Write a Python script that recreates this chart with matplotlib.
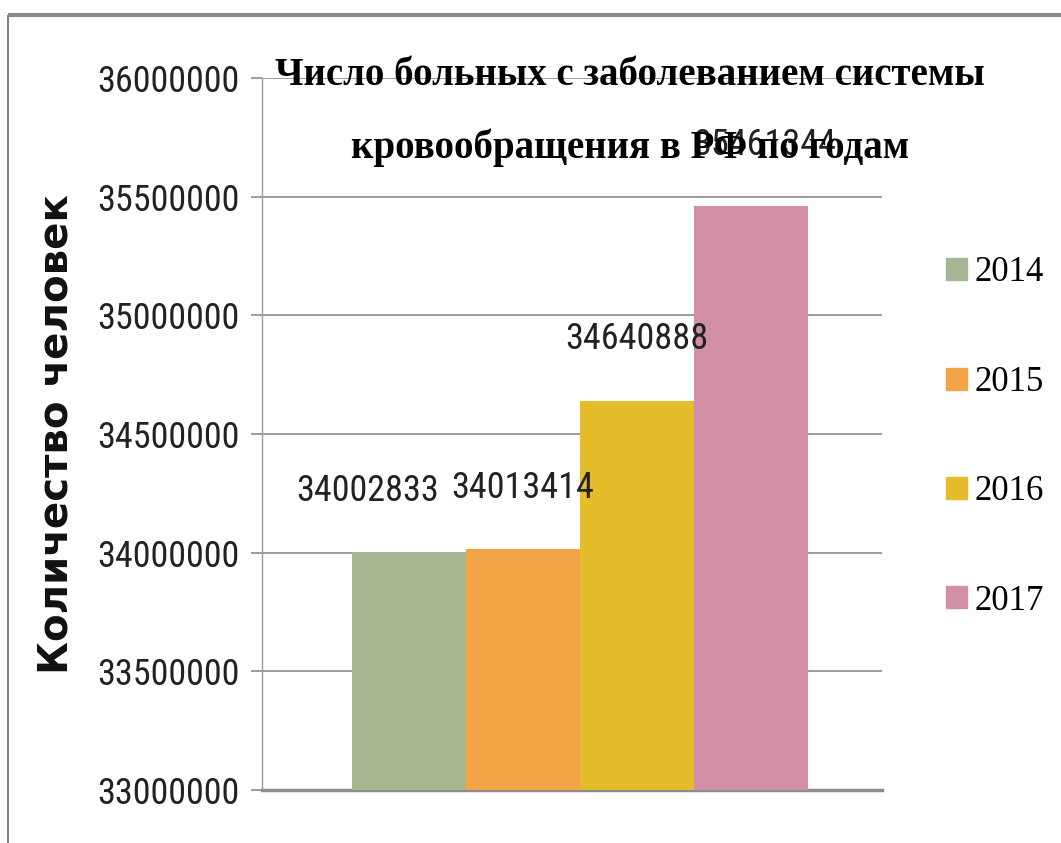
import matplotlib
matplotlib.use("Agg")
import matplotlib.pyplot as plt
from matplotlib import font_manager
from matplotlib.patches import Rectangle

years = ["2014", "2015", "2016", "2017"]
values = [34002833, 34013414, 34640888, 35461344]
colors = ["#A6B592", "#F3A447", "#E5BC2C", "#D190A6"]
yticks = [33000000, 33500000, 34000000, 34500000, 35000000, 35500000, 36000000]
title = "Число больных с заболеванием системы\nкровообращения в РФ по годам"
ylabel = "Количество человек"

fl = font_manager.fontManager.ttflist
names = {f.name for f in fl}
cond = None
for cand in ["Liberation Sans Narrow", "Roboto Condensed", "Open Sans Condensed", "Noto Sans Condensed"]:
    if cand in names:
        cond = cand
        break
has_djv_cond = any(f.name == "DejaVu Sans" and "ondensed" in f.fname for f in fl)
if cond:
    num_font = dict(family=[cond, "DejaVu Sans"])
elif has_djv_cond:
    num_font = dict(family=["DejaVu Sans"], stretch="condensed")
else:
    num_font = dict(family=["DejaVu Sans"])
serif = "Liberation Serif"

fig = plt.figure(figsize=(10.61, 8.43), dpi=100)
# outer frame
fig.patches.append(Rectangle((8/1061, -0.1), 1.2, (843-16)/843 + 0.1, transform=fig.transFigure,
                             fill=False, edgecolor="#808080", linewidth=1.5))
fig.patches.append(Rectangle((8/1061, (843-17)/843), 1.2, 4/843, transform=fig.transFigure,
                             facecolor="#8a8a8a", edgecolor="none"))

ax = fig.add_axes([262/1061, 1-790/843, 620/1061, (790-78)/843])
x = [0, 1, 2, 3]
ax.bar(x, [v - 33000000 for v in values], bottom=33000000, width=1.0, color=colors, zorder=3)
ax.set_xlim(-1.29, 4.15)
ax.set_ylim(33000000, 36000000)
ax.set_yticks(yticks)
ax.set_yticklabels([str(t) for t in yticks], fontsize=26, color="#222222", **num_font)
ax.set_xticks([])
ax.yaxis.grid(True, color="#8c8c8c", linewidth=1.2, zorder=0)
ax.tick_params(axis="y", length=8, color="#8c8c8c", width=1.2, pad=8)
for s in ["top", "right"]:
    ax.spines[s].set_visible(False)
ax.spines["left"].set_color("#9a9a9a")
ax.spines["left"].set_linewidth(1.0)
ax.spines["bottom"].set_color("#8c8c8c")
ax.spines["bottom"].set_linewidth(2.5)

offsets = [-30, 0, 0, 10]
for xi, v, dx in zip(x, values, offsets):
    ax.annotate(str(v), (xi, v), xytext=(dx, 44), textcoords="offset points", ha="center", va="center",
                fontsize=26, color="#222222", zorder=5, **num_font)

ax.set_ylabel(ylabel, fontsize=29, family="DejaVu Sans", fontweight="bold", color="#111111")
ax.yaxis.set_label_coords((77-262)/620, 0.5)

fig.text(630/1061, 1-112/843, title, ha="center", va="center", fontsize=28, fontweight="bold",
         family=serif, linespacing=2.2, color="black")

# legend
handles = [Rectangle((0, 0), 1, 1, color=c) for c in colors]
leg = fig.legend(handles, years, loc="center left", bbox_to_anchor=(915/1061, 1-437/843),
                 frameon=False, prop={"family": serif, "size": 25}, labelspacing=2.2,
                 handlelength=0.6, handleheight=0.6, handletextpad=0.2)

fig.savefig("out.png", dpi=100)
